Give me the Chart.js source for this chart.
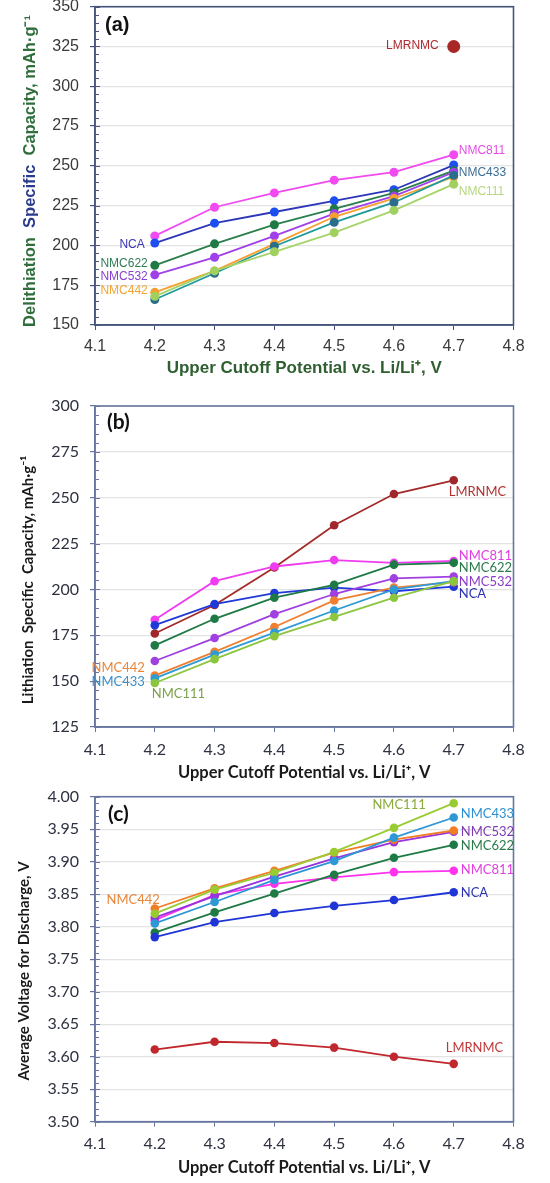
<!DOCTYPE html>
<html>
<head>
<meta charset="utf-8">
<script src="https://cdn.jsdelivr.net/npm/chart.js@4.4.1/dist/chart.umd.min.js"></script>
<style>
    body { margin: 0; background: #fff; width: 550px; height: 1183px; overflow: hidden; position: relative; }
    canvas { position: absolute; left: 0; }
</style>
</head>
<body>
<canvas id="delithiation" width="550" height="392" style="top:0px"></canvas>
<canvas id="lithiation" width="550" height="392" style="top:392px"></canvas>
<canvas id="voltage" width="550" height="399" style="top:784px"></canvas>
<script>

// upper cutoff potentials, V
var potentials = [4.2, 4.3, 4.4, 4.5, 4.6, 4.7];

// (a) delithiation specific capacity, mAh/g
var delith_nmc811 = [206, 224, 233, 241, 246, 257];
var delith_nca = [201.5, 214, 221, 228, 235, 250.5];
var delith_nmc622 = [187.5, 201, 213, 223, 233, 247];
var delith_nmc532 = [181.5, 192.5, 206, 220, 231, 246];
var delith_nmc442 = [170.5, 184, 201, 218, 229.5, 243];
var delith_nmc433 = [166, 182.5, 199.5, 214.5, 227, 244];
var delith_nmc111 = [168, 184, 196, 208, 222, 238.5];
var delith_lmrnmc = [null, null, null, null, null, 325];

// (b) lithiation specific capacity, mAh/g
var lith_lmrnmc = [176, 191.5, 212, 235, 252, 259.5];
var lith_nmc811 = [183.5, 204.5, 212.5, 216, 214.5, 215.5];
var lith_nca = [180.5, 192, 198, 201, 199, 201.5];
var lith_nmc622 = [169.5, 184, 195.5, 202.5, 213.5, 214.5];
var lith_nmc532 = [161, 173.5, 186.5, 197.5, 206, 207];
var lith_nmc442 = [153, 166, 179.5, 194, 201, 204];
var lith_nmc433 = [151.5, 164.5, 176.5, 188.5, 200, 204.5];
var lith_nmc111 = [149, 162, 174.5, 185, 195.5, 204.5];

// (c) average voltage for discharge, V
var volt_nmc111 = [3.820, 3.857, 3.883, 3.915, 3.952, 3.990];
var volt_nmc433 = [3.805, 3.838, 3.872, 3.901, 3.937, 3.968];
var volt_nmc532 = [3.814, 3.847, 3.877, 3.905, 3.930, 3.946];
var volt_nmc442 = [3.828, 3.859, 3.886, 3.914, 3.934, 3.948];
var volt_nmc622 = [3.791, 3.822, 3.851, 3.880, 3.906, 3.926];
var volt_nmc811 = [3.810, 3.849, 3.866, 3.876, 3.884, 3.886];
var volt_nca = [3.784, 3.807, 3.821, 3.832, 3.841, 3.853];
var volt_lmrnmc = [3.611, 3.623, 3.621, 3.614, 3.600, 3.589];

var x_title = "Upper Cutoff Potential vs. Li/Li\u207A, V";


function make_points(values) {
    var pts = [];
    potentials.forEach(function (p, i) {
        pts.push({x: p, y: values[i]});
    });
    return pts;
}

function make_dataset(name, values, line, point, radius) {
    return {
        label: name,
        data: make_points(values),
        borderColor: line,
        backgroundColor: point,
        pointBackgroundColor: point,
        pointBorderColor: point,
        pointBorderWidth: 0,
        pointRadius: radius,
        borderWidth: 1.8,
        spanGaps: false,
        fill: false,
        tension: 0
    };
}

// box round the plot + small inside ticks on the y axis
var frame_plugin = {
    id: "frame",
    beforeDatasetsDraw: function (chart, args, opts) {
        var a = chart.chartArea;
        var ctx = chart.ctx;
        var y = chart.scales.y;
        var n = Math.round((y.max - y.min) / opts.minor);
        ctx.save();
        ctx.strokeStyle = opts.color;
        ctx.lineWidth = 1;
        ctx.beginPath();
        for (var i = 0; i <= n; i++) {
            var py = Math.round(y.getPixelForValue(y.min + i * opts.minor)) + 0.5;
            var len = (i % opts.every === 0) ? 5 : 4;
            ctx.moveTo(a.left, py);
            ctx.lineTo(a.left + len, py);
        }
        ctx.stroke();
        ctx.lineWidth = opts.width;
        ctx.strokeRect(a.left, a.top, a.right - a.left, a.bottom - a.top);
        ctx.restore();
    }
};

// series names next to the curves, panel letter, y title
var point_labels_plugin = {
    id: "point_labels",
    afterDatasetsDraw: function (chart, args, opts) {
        var ctx = chart.ctx;
        ctx.save();
        ctx.font = opts.font;
        ctx.textBaseline = "middle";
        chart.data.datasets.forEach(function (ds, i) {
            var spot = opts.spots[ds.label];
            if (!spot) return;
            var pt = chart.getDatasetMeta(i).data[spot.at];
            ctx.fillStyle = spot.color;
            ctx.textAlign = spot.align;
            ctx.fillText(ds.label, pt.x + spot.dx, pt.y + spot.dy);
        });

        ctx.font = opts.letterFont;
        ctx.fillStyle = "#111111";
        ctx.textAlign = "left";
        ctx.fillText(opts.letter, opts.letterX, opts.letterY);

        ctx.font = opts.titleFont;
        ctx.translate(opts.titleX, opts.titleY);
        ctx.rotate(-Math.PI / 2);
        var total = 0;
        opts.title.forEach(function (seg) {
            total += ctx.measureText(seg.text).width;
        });
        var x = -total / 2;
        opts.title.forEach(function (seg) {
            ctx.fillStyle = seg.color;
            ctx.fillText(seg.text, x, 0);
            x += ctx.measureText(seg.text).width;
        });
        ctx.restore();
    }
};

function make_options(cfg) {
    return {
        responsive: false,
        animation: false,
        layout: {padding: {left: 0, top: cfg.top, right: 36.5, bottom: 0}},
        plugins: {
            legend: {display: false},
            tooltip: {enabled: false},
            frame: {color: cfg.frame, width: 1.6, minor: cfg.minor, every: cfg.every},
            point_labels: cfg.labels
        },
        scales: {
            x: {
                type: "linear",
                min: 4.1,
                max: 4.8,
                ticks: {
                    stepSize: 0.1,
                    padding: cfg.xPad,
                    color: cfg.tickColor,
                    font: {family: cfg.family, size: cfg.tickSize},
                    callback: function (v) { return v.toFixed(1); }
                },
                grid: {drawOnChartArea: false, tickLength: 5, tickColor: cfg.frame},
                border: {color: cfg.frame, width: 1.6},
                title: {
                    display: true,
                    text: x_title,
                    color: cfg.titleColor,
                    font: {family: cfg.family, size: cfg.xTitleSize, weight: "bold"},
                    padding: {top: 0, bottom: cfg.titlePad}
                },
                afterFit: function (scale) {
                    scale.height = cfg.height - cfg.bottom;
                    scale.paddingLeft = 0;
                    scale.paddingRight = 0;
                }
            },
            y: {
                min: cfg.ymin,
                max: cfg.ymax,
                ticks: {
                    stepSize: cfg.step,
                    padding: 11,
                    color: cfg.tickColor,
                    font: {family: cfg.family, size: cfg.tickSize},
                    callback: function (v) { return v.toFixed(cfg.decimals); }
                },
                grid: {color: "#e3e3e3", lineWidth: 1.2, tickLength: 5, tickColor: cfg.frame},
                border: {color: cfg.frame, width: 1.6},
                afterFit: function (scale) {
                    scale.width = 95;
                    scale.paddingTop = 0;
                    scale.paddingBottom = 0;
                }
            }
        }
    };
}


function build_graph_delithiation() {

    var ctx = document.getElementById("delithiation");

    var data = {
        datasets: [
            make_dataset("NMC111", delith_nmc111, "#a6d468", "#a0d060", 4.5),
            make_dataset("NMC433", delith_nmc433, "#1e9a9c", "#2a6e8c", 4.5),
            make_dataset("NMC442", delith_nmc442, "#f5a030", "#f5a030", 4.5),
            make_dataset("NMC532", delith_nmc532, "#a040e8", "#a040e8", 4.5),
            make_dataset("NMC622", delith_nmc622, "#2a7f4c", "#1f7a45", 4.5),
            make_dataset("NCA", delith_nca, "#2d36b8", "#1d4ef0", 4.5),
            make_dataset("NMC811", delith_nmc811, "#f04af0", "#f04af0", 4.5),
            make_dataset("LMRNMC", delith_lmrnmc, "#a82828", "#a82828", 6.5)
        ]
    };

    var labels = {
        font: "12px 'Liberation Sans'",
        spots: {
            "LMRNMC": {at: 5, dx: -15, dy: -1, align: "right", color: "#b02a30"},
            "NMC811": {at: 5, dx: 5, dy: -4, align: "left", color: "#e44ee4"},
            "NMC433": {at: 5, dx: 5, dy: -3, align: "left", color: "#3c6f96"},
            "NMC111": {at: 5, dx: 5, dy: 8, align: "left", color: "#b7d77f"},
            "NCA": {at: 0, dx: -10, dy: 2, align: "right", color: "#3737b8"},
            "NMC622": {at: 0, dx: -7, dy: -2, align: "right", color: "#2f7d55"},
            "NMC532": {at: 0, dx: -7, dy: 2, align: "right", color: "#8a3fd0"},
            "NMC442": {at: 0, dx: -7, dy: -2, align: "right", color: "#f2a535"}
        },
        letter: "(a)", letterFont: "bold 20px 'Liberation Sans'", letterX: 105, letterY: 25,
        titleFont: "bold 16.5px 'Liberation Sans'", titleX: 30, titleY: 171,
        title: [
            {text: "Delithiation  ", color: "#2f6e3b"},
            {text: "Specific  ", color: "#2a3a8c"},
            {text: "Capacity, mAh\u00B7g\u207B\u00B9", color: "#2f6e3b"}
        ]
    };

    var option = make_options({
        top: 6.7, bottom: 325, height: 392, frame: "#46557a", minor: 5, every: 5,
        family: "'Liberation Sans'", tickSize: 16, tickColor: "#3a3a3a", xPad: 7,
        titleColor: "#2f5f30", xTitleSize: 17, titlePad: 13, ymin: 150, ymax: 350, step: 25, decimals: 0,
        labels: labels
    });

    var lineChart = new Chart(ctx, {
        type: "line",
        data: data,
        options: option,
        plugins: [frame_plugin, point_labels_plugin]
    });

}


function build_graph_lithiation() {

    var ctx = document.getElementById("lithiation");

    var data = {
        datasets: [
            make_dataset("NMC111", lith_nmc111, "#8cc63f", "#8cc63f", 4.3),
            make_dataset("NMC433", lith_nmc433, "#2e9bd6", "#2e9bd6", 4.3),
            make_dataset("NMC442", lith_nmc442, "#f08030", "#f08030", 4.3),
            make_dataset("NMC532", lith_nmc532, "#a040e0", "#a040e0", 4.3),
            make_dataset("NMC622", lith_nmc622, "#1e7a45", "#1e7a45", 4.3),
            make_dataset("NCA", lith_nca, "#1f3ad8", "#1f3ad8", 4.3),
            make_dataset("NMC811", lith_nmc811, "#f03cf0", "#f03cf0", 4.3),
            make_dataset("LMRNMC", lith_lmrnmc, "#a52a2a", "#a0282c", 4.3)
        ]
    };

    var labels = {
        font: "13px Lato",
        spots: {
            "LMRNMC": {at: 5, dx: -5, dy: 12, align: "left", color: "#b03030"},
            "NMC811": {at: 5, dx: 5, dy: -5, align: "left", color: "#e040e0"},
            "NMC622": {at: 5, dx: 5, dy: 5, align: "left", color: "#2a7a4a"},
            "NMC532": {at: 5, dx: 5, dy: 5, align: "left", color: "#8a3cc8"},
            "NCA": {at: 5, dx: 5, dy: 7, align: "left", color: "#2b33b0"},
            "NMC442": {at: 0, dx: -10, dy: -8, align: "right", color: "#e8863a"},
            "NMC433": {at: 0, dx: -10, dy: 3, align: "right", color: "#3a90c8"},
            "NMC111": {at: 0, dx: -3, dy: 11, align: "left", color: "#7aa04a"}
        },
        letter: "(b)", letterFont: "bold 21px Lato", letterX: 107, letterY: 30,
        titleFont: "bold 15px Lato", titleX: 28, titleY: 188,
        title: [
            {text: "Lithiation  Specific  Capacity, mAh\u00B7g\u207B\u00B9", color: "#1a1a1a"}
        ]
    };

    var option = make_options({
        top: 14, bottom: 335, height: 392, frame: "#6676a0", minor: 5, every: 5,
        family: "Lato", tickSize: 16, tickColor: "#2e3140", xPad: 8,
        titleColor: "#1a1a1a", xTitleSize: 16.5, titlePad: 1, ymin: 125, ymax: 300, step: 25, decimals: 0,
        labels: labels
    });

    var lineChart = new Chart(ctx, {
        type: "line",
        data: data,
        options: option,
        plugins: [frame_plugin, point_labels_plugin]
    });

}


function build_graph_voltage() {

    var ctx = document.getElementById("voltage");

    var data = {
        datasets: [
            make_dataset("LMRNMC", volt_lmrnmc, "#c0282d", "#c0282d", 4.3),
            make_dataset("NCA", volt_nca, "#1f35d6", "#1f35d6", 4.3),
            make_dataset("NMC622", volt_nmc622, "#1e7b45", "#1e7b45", 4.3),
            make_dataset("NMC433", volt_nmc433, "#2e97d6", "#2e97d6", 4.3),
            make_dataset("NMC111", volt_nmc111, "#99cc33", "#99cc33", 4.3),
            make_dataset("NMC442", volt_nmc442, "#f07e26", "#f07e26", 4.3),
            make_dataset("NMC532", volt_nmc532, "#9933dd", "#9933dd", 4.3),
            make_dataset("NMC811", volt_nmc811, "#ff33ee", "#ff33ee", 4.3)
        ]
    };

    var labels = {
        font: "13px Lato",
        spots: {
            "NMC111": {at: 5, dx: -28, dy: 2, align: "right", color: "#8aaa3a"},
            "NMC433": {at: 5, dx: 7, dy: -4, align: "left", color: "#2e8fd0"},
            "NMC532": {at: 5, dx: 7, dy: 0, align: "left", color: "#7e3bb5"},
            "NMC622": {at: 5, dx: 7, dy: 1, align: "left", color: "#2a7a4a"},
            "NMC811": {at: 5, dx: 7, dy: -1, align: "left", color: "#e040e0"},
            "NCA": {at: 5, dx: 7, dy: 1, align: "left", color: "#2b33b0"},
            "LMRNMC": {at: 5, dx: -8, dy: -16, align: "left", color: "#c0383a"},
            "NMC442": {at: 0, dx: 5, dy: -9, align: "right", color: "#e8863a"}
        },
        letter: "(c)", letterFont: "bold 21px Lato", letterX: 108, letterY: 30,
        titleFont: "bold 15px Lato", titleX: 24, titleY: 187,
        title: [
            {text: "Average Voltage for Discharge, V", color: "#1a1a1a"}
        ]
    };

    var option = make_options({
        top: 12.7, bottom: 337.7, height: 399, frame: "#6676a0", minor: 0.01, every: 5,
        family: "Lato", tickSize: 16, tickColor: "#2e3140", xPad: 8,
        titleColor: "#1a1a1a", xTitleSize: 16.5, titlePad: 5, ymin: 3.5, ymax: 4.0, step: 0.05, decimals: 2,
        labels: labels
    });

    var lineChart = new Chart(ctx, {
        type: "line",
        data: data,
        options: option,
        plugins: [frame_plugin, point_labels_plugin]
    });

}

build_graph_delithiation();
build_graph_lithiation();
build_graph_voltage();

</script>
</body>
</html>
